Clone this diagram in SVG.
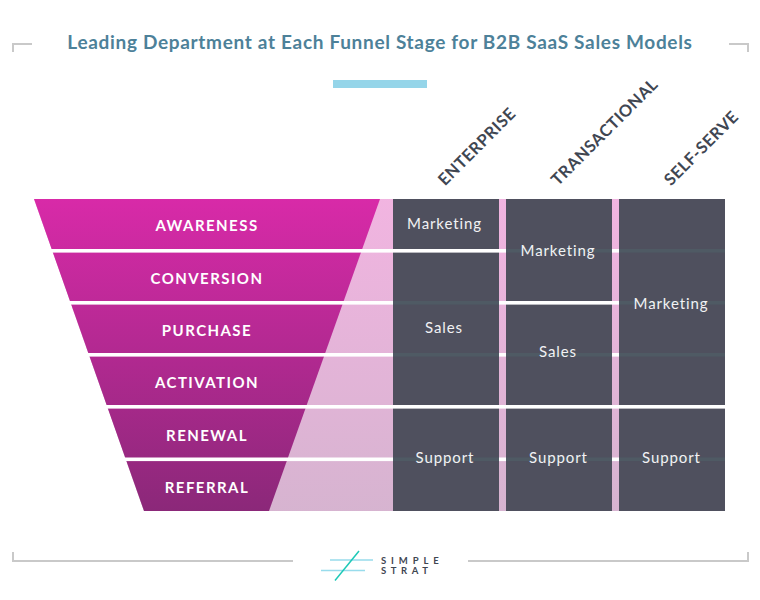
<svg xmlns="http://www.w3.org/2000/svg" width="760" height="600" viewBox="0 0 760 600">
<defs>
<linearGradient id="fun" x1="0" y1="199" x2="0" y2="511" gradientUnits="userSpaceOnUse"><stop offset="0" stop-color="#d82aa8"/><stop offset="1" stop-color="#8b2879"/></linearGradient>
</defs>
<style>
.frame{fill:none;stroke:#c9c9c9;stroke-width:2}
.stage{font:700 15px "Lato",sans-serif;fill:#fff;text-anchor:middle;letter-spacing:1.45px}
.dept{font:400 15px "Lato",sans-serif;fill:#f2f2f4;text-anchor:middle;letter-spacing:.9px}
.col{font:700 16.5px "Lato",sans-serif;fill:#3f4652;letter-spacing:.5px}
.cell{fill:#4f505e}
.white{fill:#fff}
.faint{fill:#4f5a64}
.logo{font:700 9.5px "Lato",sans-serif;fill:#3f4652}
</style>
<rect width="760" height="600" fill="#fff"/>
<g id="frame">
<path class="frame" d="M13 52V44H32"/>
<path class="frame" d="M729 44H748V52"/>
<path class="frame" d="M13 552V561H293"/>
<path class="frame" d="M468 561H748V552"/>
</g>
<text x="380" y="49" text-anchor="middle" style="font:700 19px 'Lato',sans-serif;fill:#4d8199;letter-spacing:.68px">Leading Department at Each Funnel Stage for B2B SaaS Sales Models</text>
<rect x="333" y="80" width="94" height="8" fill="#95d5e9"/>
<g id="funnel">
<path d="M34 199H619V511H144Z" fill="url(#fun)" opacity=".35"/>
<path d="M34 199H380L269 511H144Z" fill="url(#fun)"/>
</g>
<g id="columns">
<rect class="cell" x="393" y="199" width="106" height="312"/>
<rect class="cell" x="506" y="199" width="106" height="312"/>
<rect class="cell" x="619" y="199" width="106" height="312"/>
</g>
<g id="connectors">
<rect class="white" x="30" y="249" width="476" height="3.6"/>
<rect class="white" x="30" y="301" width="363" height="3.6"/>
<rect class="white" x="30" y="353" width="363" height="3.6"/>
<rect class="white" x="30" y="405" width="695" height="3.6"/>
<rect class="white" x="30" y="457.5" width="363" height="3.6"/>
<rect class="faint" x="506" y="249" width="106" height="3.6"/><rect class="faint" x="619" y="249" width="106" height="3.6"/>
<rect class="white" x="612" y="249" width="7" height="3.6"/>
<rect class="faint" x="393" y="301" width="106" height="3.6"/><rect class="white" x="499" y="301" width="120" height="3.6"/><rect class="faint" x="619" y="301" width="106" height="3.6"/>
<rect class="faint" x="393" y="353" width="106" height="3.6"/><rect class="white" x="499" y="353" width="7" height="3.6"/><rect class="faint" x="506" y="353" width="106" height="3.6"/><rect class="white" x="612" y="353" width="7" height="3.6"/><rect class="faint" x="619" y="353" width="106" height="3.6"/>
<rect class="faint" x="393" y="457.5" width="106" height="3.6"/><rect class="white" x="499" y="457.5" width="7" height="3.6"/><rect class="faint" x="506" y="457.5" width="106" height="3.6"/><rect class="white" x="612" y="457.5" width="7" height="3.6"/><rect class="faint" x="619" y="457.5" width="106" height="3.6"/>
</g>
<g id="stages">
<text class="stage" x="207" y="231">AWARENESS</text>
<text class="stage" x="207" y="284">CONVERSION</text>
<text class="stage" x="207" y="336">PURCHASE</text>
<text class="stage" x="207" y="388">ACTIVATION</text>
<text class="stage" x="207" y="441">RENEWAL</text>
<text class="stage" x="207" y="493">REFERRAL</text>
</g>
<g id="departments">
<text class="dept" x="444.500" y="229">Marketing</text>
<text class="dept" x="444" y="333">Sales</text>
<text class="dept" x="445" y="463">Support</text>
<text class="dept" x="558" y="256">Marketing</text>
<text class="dept" x="558" y="357">Sales</text>
<text class="dept" x="558.500" y="463">Support</text>
<text class="dept" x="671" y="309">Marketing</text>
<text class="dept" x="671.500" y="463">Support</text>
</g>
<g id="headers">
<text class="col" transform="translate(445 186.500) rotate(-45)">ENTERPRISE</text>
<text class="col" transform="translate(558 186.500) rotate(-45)">TRANSACTIONAL</text>
<text class="col" transform="translate(671 186.500) rotate(-45)">SELF-SERVE</text>
</g>
<g id="logo">
<path d="M330 560H373M321 570.500H365" stroke="#98dcec" stroke-width="1.500" fill="none"/>
<path d="M359 551L335 580.500" stroke="#1dc9b7" stroke-width="1.500" fill="none"/>
<text class="logo" x="381" y="564" style="letter-spacing:4.900px">SIMPLE</text>
<text class="logo" x="381" y="574" style="letter-spacing:4.600px">STRAT</text>
</g>
</svg>
